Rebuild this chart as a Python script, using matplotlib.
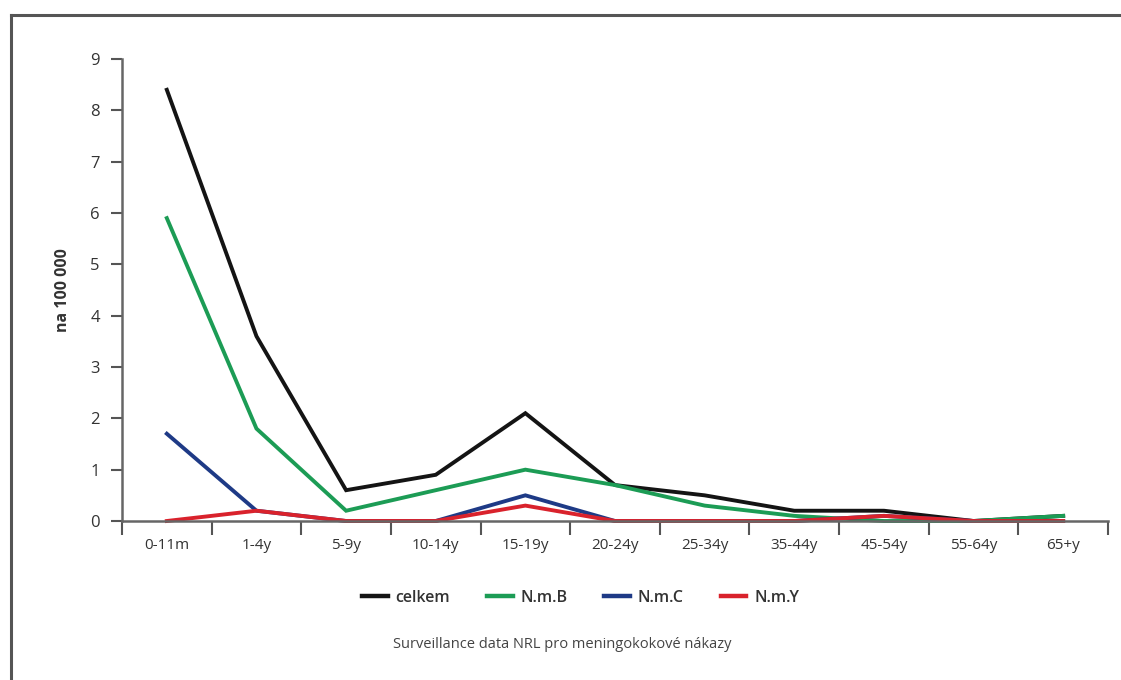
import matplotlib
matplotlib.use("Agg")
import matplotlib.pyplot as plt
from matplotlib.lines import Line2D
import numpy as np

plt.rcParams['font.family'] = ['Open Sans', 'DejaVu Sans']

age_groups = ["0-11m", "1-4y", "5-9y", "10-14y", "15-19y", "20-24y",
              "25-34y", "35-44y", "45-54y", "55-64y", "65+y"]
celkem = [8.4, 3.6, 0.6, 0.9, 2.1, 0.7, 0.5, 0.2, 0.2, 0.0, 0.1]
nmb = [5.9, 1.8, 0.2, 0.6, 1.0, 0.7, 0.3, 0.1, 0.0, 0.0, 0.1]
nmc = [1.7, 0.2, 0.0, 0.0, 0.5, 0.0, 0.0, 0.0, 0.1, 0.0, 0.0]
nmy = [0.0, 0.2, 0.0, 0.0, 0.3, 0.0, 0.0, 0.0, 0.1, 0.0, 0.0]
y_ticks = [0, 1, 2, 3, 4, 5, 6, 7, 8, 9]

series = [("celkem", celkem, "#141414"),
          ("N.m.B", nmb, "#1c9c55"),
          ("N.m.C", nmc, "#1e3a86"),
          ("N.m.Y", nmy, "#d9222c")]

fig = plt.figure(figsize=(11.21, 6.8), dpi=100)
fig.patch.set_facecolor("white")

# outer frame (left and top edges)
fig.add_artist(Line2D([11/1121, 11/1121], [0, 1 - 15/680],
                      transform=fig.transFigure, color="#555555", lw=2.2))
fig.add_artist(Line2D([11/1121, 1], [1 - 15/680, 1 - 15/680],
                      transform=fig.transFigure, color="#555555", lw=2.2))

ax = fig.add_axes([122/1121, 1 - 521/680, (1108 - 122)/1121, (521 - 59)/680])
x = np.arange(len(age_groups))

for name, vals, col in series:
    ax.plot(x, vals, color=col, lw=2.8, label=name, clip_on=False,
            solid_joinstyle="miter")

ax.set_xlim(-0.5, len(age_groups) - 0.5)
ax.set_ylim(0, 9)
ax.set_yticks(y_ticks)
ax.set_yticklabels([str(v) for v in y_ticks], fontsize=12, color="#333333")
ax.set_xticks(x)
ax.set_xticklabels(age_groups, fontsize=11, color="#333333")
ax.tick_params(axis="x", which="major", length=0, pad=12)
ax.set_xticks(np.arange(-0.5, len(age_groups)), minor=True)
ax.tick_params(axis="x", which="minor", length=10, width=1.5, color="#555555")
ax.tick_params(axis="y", length=8, width=1.5, color="#555555", pad=8)

for side in ("top", "right"):
    ax.spines[side].set_visible(False)
for side in ("left", "bottom"):
    ax.spines[side].set_color("#666666")
    ax.spines[side].set_linewidth(1.8)

ax.set_ylabel("na 100 000", fontsize=11.5, fontweight="bold", color="#333333",
              labelpad=14)

handles = [Line2D([0], [0], color=c, lw=3.2) for _, _, c in series]
labels = [n for n, _, _ in series]
leg = fig.legend(handles, labels, loc="center", bbox_to_anchor=(0.518, 1 - 598/680),
                 ncol=4, frameon=False, handlelength=1.6, handletextpad=0.5,
                 columnspacing=2.3, prop={"size": 11.5, "weight": "semibold"})
for t in leg.get_texts():
    t.set_color("#333333")

fig.text(0.502, 1 - 644/680, "Surveillance data NRL pro meningokokové nákazy",
         ha="center", va="center", fontsize=10.5, color="#444444")

fig.savefig("out.png", dpi=100)
